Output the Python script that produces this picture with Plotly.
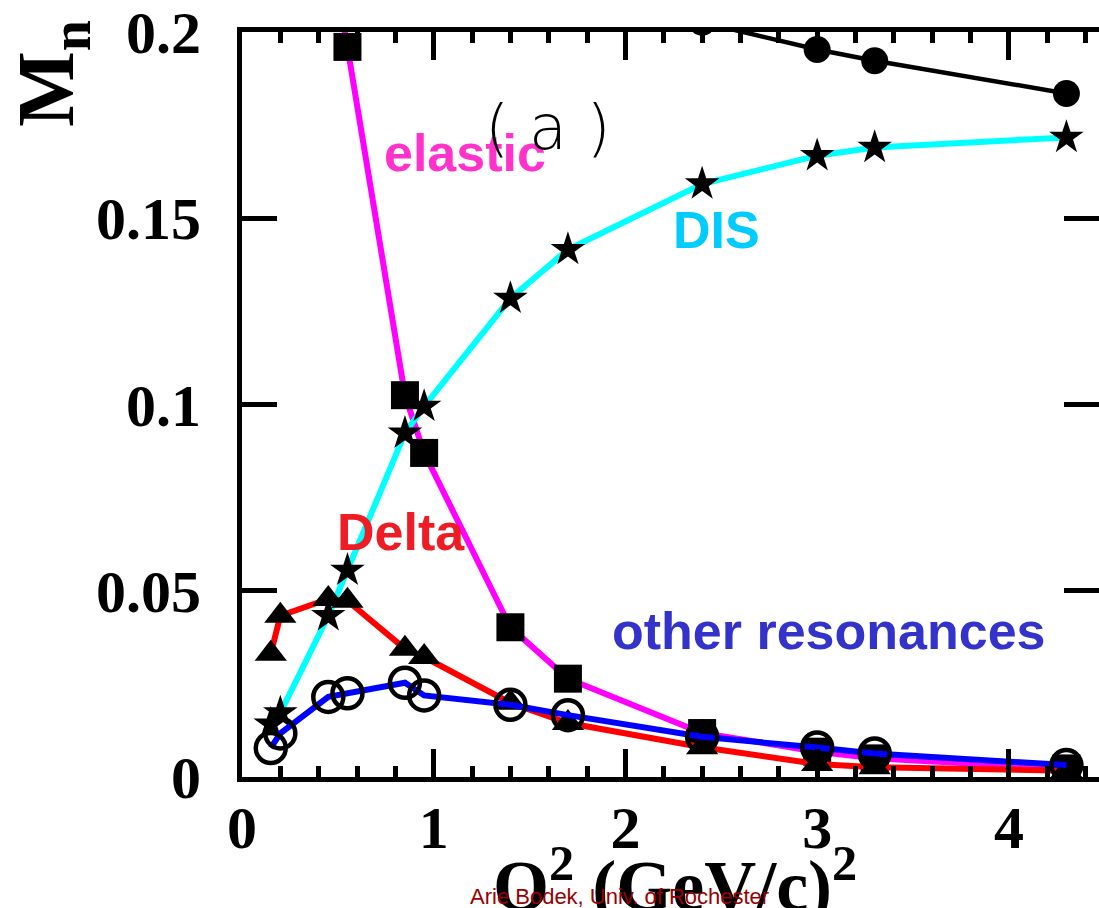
import plotly.graph_objects as go

# ---- data ----
q2_all = [0.15, 0.2, 0.45, 0.55, 0.85, 0.95, 1.4, 1.7, 2.4, 3.0, 3.3, 4.3]

elastic_x = [0.45, 0.55, 0.85, 0.95, 1.4, 1.7, 2.4, 3.0, 3.3, 4.3]
elastic_y = [0.225, 0.196, 0.1025, 0.087, 0.0402, 0.0264, 0.0118, 0.0068, 0.0050, 0.0023]

dis_x = q2_all
dis_y = [0.0142, 0.0172, 0.0433, 0.0555, 0.0923, 0.0995, 0.1285, 0.1416, 0.1592, 0.1668, 0.1690, 0.1717]

delta_x = q2_all
delta_y = [0.0331, 0.0433, 0.0478, 0.0473, 0.0344, 0.0322, 0.0199, 0.0145, 0.0080, 0.0035, 0.0026, 0.0017]

other_x = q2_all
other_y = [0.0078, 0.0117, 0.0215, 0.0225, 0.0253, 0.0219, 0.0194, 0.0166, 0.0108, 0.0079, 0.0063, 0.0032]

total_x = [2.4, 3.0, 3.3, 4.3]
total_y = [0.2026, 0.1953, 0.1923, 0.1835]

x_ticks = [0, 1, 2, 3, 4]
y_ticks = [0, 0.05, 0.1, 0.15, 0.2]
y_tick_labels = ["0", "0.05", "0.1", "0.15", "0.2"]

fig = go.Figure()

def add_series(x, y, color, symbol, size, lw=6, open_marker=False):
    marker = dict(symbol=symbol, size=size, color="black")
    if open_marker:
        marker = dict(symbol=symbol, size=size, color="black", line=dict(width=4.5, color="black"))
    fig.add_trace(go.Scatter(x=x, y=y, mode="lines+markers",
                             line=dict(color=color, width=lw),
                             marker=marker, showlegend=False, hoverinfo="skip"))

add_series(elastic_x, elastic_y, "#FF00FF", "square", 28)
add_series(dis_x, dis_y, "#00FFFF", "star", 26)
add_series(delta_x, delta_y, "#FF0000", "triangle-up", 28)
add_series(other_x, other_y, "#0000FF", "circle-open", 30, open_marker=True)
add_series(total_x, total_y, "black", "circle", 27, lw=4.5)

# invisible trace for right-side tick axis
fig.add_trace(go.Scatter(x=[0], y=[0], yaxis="y2", mode="markers",
                         marker=dict(opacity=0), showlegend=False, hoverinfo="skip"))

serif_bold = dict(family="Liberation Serif, Times New Roman, serif", size=60, color="black", weight="bold")

fig.update_layout(
    width=1099, height=908,
    margin=dict(l=242, r=0, t=29, b=131),
    paper_bgcolor="white", plot_bgcolor="white",
    xaxis=dict(range=[0, 4.47], tickvals=x_ticks, ticktext=[str(v) for v in x_ticks],
               ticks="inside", ticklen=28, tickwidth=5, tickcolor="black",
               minor=dict(dtick=0.2, tick0=0, ticks="inside", ticklen=11, tickwidth=5, tickcolor="black"),
               showline=True, linewidth=5, linecolor="black", mirror="ticks",
               showgrid=False, zeroline=False, tickfont=serif_bold, ticklabelstandoff=-6,
               ticklabeloverflow="allow"),
    yaxis=dict(range=[0, 0.2], tickvals=y_ticks, ticktext=y_tick_labels,
               ticks="inside", ticklen=35, tickwidth=5, tickcolor="black",
               showline=True, linewidth=5, linecolor="black", mirror=False,
               showgrid=False, zeroline=False, tickfont=serif_bold, ticklabelstandoff=24,
               ticklabeloverflow="allow"),
    yaxis2=dict(range=[0, 0.2], overlaying="y", side="right", tickvals=y_ticks,
                ticks="inside", ticklen=35, tickwidth=5, tickcolor="black",
                showticklabels=False, showline=False, showgrid=False, zeroline=False),
)

sans_b = "Liberation Sans, Arial, sans-serif"
labels = [
    ("elastic", 1.163, 0.1676, "#FF33CC"),
    ("DIS", 2.473, 0.1468, "#00CCFF"),
    ("Delta", 0.83, 0.0658, "#EE1C24"),
    ("other resonances", 3.062, 0.0393, "#3333CC"),
]
for txt, x, y, c in labels:
    fig.add_annotation(x=x, y=y, xref="x", yref="y", text=txt, showarrow=False,
                       font=dict(family=sans_b, size=52, color=c, weight="bold"),
                       xanchor="center", yanchor="middle")

fig.add_annotation(x=1.597, y=0.1743, xref="x", yref="y", text="( a )", showarrow=False,
                   font=dict(family="DejaVu Sans, sans-serif", size=62, color="black", weight=300),
                   xanchor="center", yanchor="middle")

fig.add_annotation(x=0.505, y=-0.139, xref="paper", yref="paper",
                   text="Q<sup>2</sup> (GeV/c)<sup>2</sup>", showarrow=False,
                   font=dict(family="Liberation Serif, Times New Roman, serif", size=72, color="black", weight="bold"),
                   xanchor="center", yanchor="middle")

fig.add_annotation(x=-0.222, y=0.945, xref="paper", yref="paper",
                   text="M<sub>n</sub>", textangle=-90, showarrow=False,
                   font=dict(family="Liberation Serif, Times New Roman, serif", size=80, color="black", weight="bold"),
                   xanchor="center", yanchor="middle")

fig.add_annotation(x=0.441, y=-0.160, xref="paper", yref="paper",
                   text="Arie Bodek, Univ. of Rochester", showarrow=False,
                   font=dict(family="Liberation Sans Narrow, Arial Narrow, Liberation Sans, sans-serif", size=22, color="#990000"),
                   xanchor="center", yanchor="middle")

fig.write_html("out.html", config={"displayModeBar": False},
               post_script="document.body.style.margin='0';document.body.style.overflow='hidden';")
